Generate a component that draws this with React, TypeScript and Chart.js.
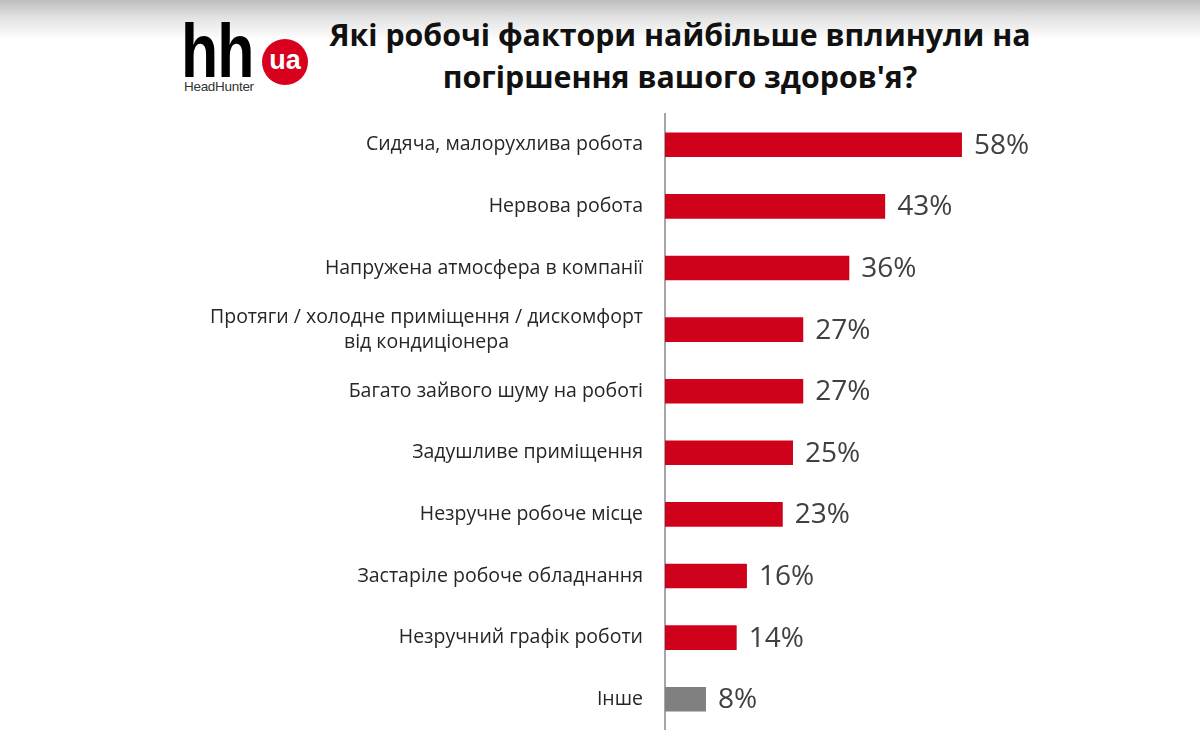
import React, { useEffect, useRef } from "react";
import { Chart, registerables } from "chart.js";

Chart.register(...registerables);

const categories: string[][] = [
  ["Сидяча, малорухлива робота"],
  ["Нервова робота"],
  ["Напружена атмосфера в компанії"],
  ["Протяги / холодне приміщення / дискомфорт", "від кондиціонера"],
  ["Багато зайвого шуму на роботі"],
  ["Задушливе приміщення"],
  ["Незручне робоче місце"],
  ["Застаріле робоче обладнання"],
  ["Незручний графік роботи"],
  ["Інше"],
];
const values: number[] = [58, 43, 36, 27, 27, 25, 23, 16, 14, 8];
const barColors: string[] = [
  "#d0021b", "#d0021b", "#d0021b", "#d0021b", "#d0021b",
  "#d0021b", "#d0021b", "#d0021b", "#d0021b", "#808080",
];
const titleLines: string[] = [
  "Які робочі фактори найбільше вплинули на",
  "погіршення вашого здоров'я?",
];

const FONT = "'Open Sans', 'Noto Sans', sans-serif";

const labelPlugin = {
  id: "customLabels",
  afterDatasetsDraw(chart: any) {
    const ctx = chart.ctx as CanvasRenderingContext2D;
    const meta = chart.getDatasetMeta(0);
    const xScale = chart.scales.x;
    ctx.save();
    meta.data.forEach((bar: any, i: number) => {
      const y = bar.y;
      const lines = categories[i];
      ctx.font = `19.5px ${FONT}`;
      ctx.fillStyle = "#262626";
      ctx.textBaseline = "middle";
      const rightX = chart.chartArea.left - 22;
      const widths = lines.map((l) => ctx.measureText(l).width);
      const maxW = Math.max(...widths);
      const lh = 25;
      const startY = y - ((lines.length - 1) * lh) / 2;
      lines.forEach((l, j) => {
        if (lines.length === 1) {
          ctx.textAlign = "right";
          ctx.fillText(l, rightX, startY + j * lh);
        } else {
          ctx.textAlign = "center";
          ctx.fillText(l, rightX - maxW / 2, startY + j * lh);
        }
      });
      ctx.font = `28px ${FONT}`;
      ctx.fillStyle = "#404040";
      ctx.textAlign = "left";
      const vx = xScale.getPixelForValue(values[i]);
      ctx.fillText(values[i] + "%", vx + 12, y + 1);
    });
    ctx.restore();
  },
};

export default function App() {
  const ref = useRef<HTMLCanvasElement | null>(null);
  useEffect(() => {
    if (!ref.current) return;
    const chart = new Chart(ref.current, {
      type: "bar",
      data: {
        labels: categories.map((c) => c.join(" ")),
        datasets: [
          {
            data: values,
            backgroundColor: barColors,
            barPercentage: 0.4,
            categoryPercentage: 1,
          },
        ],
      },
      options: {
        indexAxis: "y",
        animation: false,
        responsive: false,
        maintainAspectRatio: false,
        layout: { padding: { top: 114, bottom: 0, left: 0, right: 23 } },
        plugins: {
          legend: { display: false },
          tooltip: { enabled: false },
          title: { display: false },
        },
        scales: {
          x: { display: false, min: 0, max: 100 },
          y: {
            grid: { display: false, drawTicks: false },
            border: { display: true, color: "#a6a6a6", width: 2 },
            ticks: { display: false },
            afterFit: (scale: any) => {
              scale.width = 665;
            },
          },
        },
      },
      plugins: [labelPlugin],
    });
    return () => chart.destroy();
  }, []);

  return (
    <div
      style={{
        position: "absolute",
        left: 0,
        top: 0,
        width: 1200,
        height: 730,
        overflow: "hidden",
        background: "linear-gradient(to bottom, #bdbdbd 0px, #e3e3e3 18px, #ffffff 40px, #ffffff 100%)",
      }}
    >
      <div
        style={{
          position: "absolute",
          left: 181,
          top: 6,
          fontFamily: "'Liberation Sans', Arial, sans-serif",
          fontWeight: 700,
          fontSize: 76,
          lineHeight: "90px",
          color: "#000",
          transform: "scaleX(0.8)",
          transformOrigin: "left top",
          letterSpacing: -1,
        }}
      >
        hh
      </div>
      <div
        style={{
          position: "absolute",
          left: 262,
          top: 39,
          width: 46,
          height: 46,
          borderRadius: "50%",
          background: "#d8001d",
          color: "#fff",
          fontFamily: "'Liberation Sans', Arial, sans-serif",
          fontWeight: 700,
          fontSize: 27,
          lineHeight: "42px",
          textAlign: "center",
        }}
      >
        ua
      </div>
      <div
        style={{
          position: "absolute",
          left: 184,
          top: 79,
          fontFamily: "'Liberation Sans', Arial, sans-serif",
          fontSize: 13.5,
          color: "#333",
          letterSpacing: -0.3,
        }}
      >
        HeadHunter
      </div>
      <div
        style={{
          position: "absolute",
          left: 280,
          width: 800,
          top: 14,
          textAlign: "center",
          fontFamily: FONT,
          fontWeight: 700,
          fontSize: 30.3,
          lineHeight: "42px",
          color: "#111",
        }}
      >
        {titleLines.map((t, i) => (
          <div key={i} style={{ whiteSpace: "nowrap" }}>
            {t}
          </div>
        ))}
      </div>
      <canvas
        ref={ref}
        width={1200}
        height={730}
        style={{ position: "absolute", left: 0, top: 0, width: 1200, height: 730 }}
      />
    </div>
  );
}
